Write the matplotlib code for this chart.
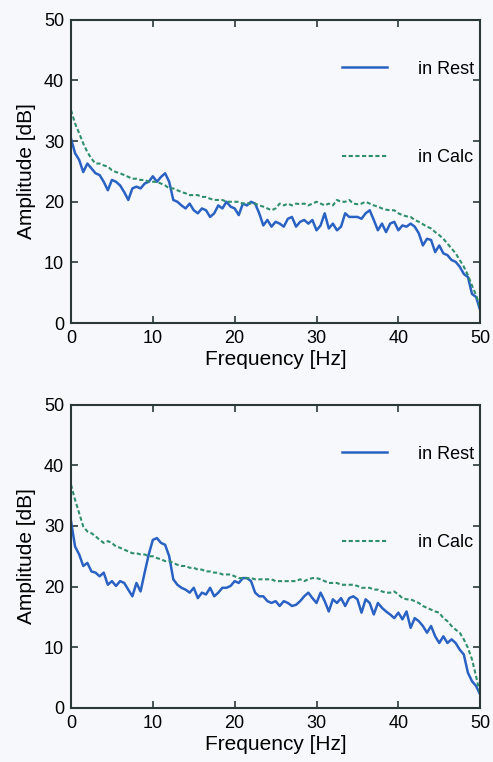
import numpy as np
import matplotlib
matplotlib.use("Agg")
import matplotlib.pyplot as plt

plt.rcParams['font.family'] = ['Liberation Sans', 'DejaVu Sans']

# frequency grid of the spectra (Hz), 0.5 Hz steps
freq = np.arange(0, 50.5, 0.5)

# upper panel
top_rest = [30.4, 28.0, 26.9, 24.9, 26.3, 25.5, 24.7, 24.4, 23.3, 21.9,
            23.6, 23.3, 22.7, 21.6, 20.3, 22.2, 22.5, 22.2, 23.0, 23.3,
            24.2, 23.3, 24.1, 24.7, 23.3, 20.3, 20.0, 19.4, 18.9, 19.7,
            18.6, 18.1, 18.9, 18.6, 17.5, 18.1, 19.4, 18.9, 20.0, 19.2,
            18.9, 17.8, 19.7, 19.4, 20.0, 19.7, 18.1, 16.1, 17.0, 15.9,
            16.7, 16.4, 15.9, 17.2, 17.5, 15.9, 16.7, 17.0, 16.4, 17.0,
            15.3, 16.1, 18.1, 15.6, 16.4, 15.3, 15.9, 18.1, 17.5, 17.5,
            17.5, 17.2, 18.1, 18.6, 17.0, 15.3, 16.4, 15.0, 16.4, 16.7,
            15.3, 16.1, 15.9, 16.4, 15.9, 14.8, 12.8, 13.9, 13.7, 11.7,
            12.8, 11.5, 11.2, 10.4, 10.1, 9.3, 8.1, 7.6, 4.8, 4.3,
            2.1]
top_calc = [35.1, 32.9, 31.3, 29.6, 28.2, 27.1, 26.3, 26.3, 26.0, 25.8,
            25.2, 24.9, 24.7, 24.4, 24.1, 23.8, 23.8, 23.6, 23.6, 23.3,
            23.3, 23.3, 23.0, 22.7, 22.2, 22.2, 21.9, 21.6, 21.4, 21.1,
            21.1, 21.1, 20.8, 20.8, 20.5, 20.3, 20.3, 20.3, 20.0, 20.0,
            20.0, 20.0, 19.7, 19.8, 19.7, 19.7, 19.4, 19.2, 18.9, 18.6,
            18.9, 19.7, 19.4, 19.7, 19.4, 19.7, 19.6, 19.7, 19.4, 19.7,
            20.0, 19.7, 19.4, 19.7, 19.4, 20.3, 20.0, 20.0, 20.3, 19.7,
            19.6, 19.7, 20.0, 19.7, 19.4, 19.2, 18.9, 18.7, 18.6, 18.6,
            18.1, 17.8, 17.6, 17.5, 17.0, 16.7, 16.3, 15.9, 15.6, 15.0,
            14.5, 13.9, 13.1, 12.3, 11.5, 10.4, 9.3, 7.9, 6.2, 4.6,
            2.6]

# lower panel
bot_rest = [30.8, 26.6, 25.3, 23.4, 23.9, 22.5, 22.3, 21.7, 22.3, 20.3,
            20.9, 20.1, 20.9, 20.6, 19.5, 18.4, 20.6, 19.2, 22.3, 25.3,
            27.7, 28.0, 27.2, 26.9, 25.0, 21.2, 20.3, 19.8, 19.5, 19.0,
            19.8, 18.1, 19.0, 18.7, 19.8, 18.4, 19.0, 19.8, 19.8, 20.1,
            20.9, 20.6, 21.4, 21.4, 20.9, 19.0, 18.4, 18.4, 17.6, 17.3,
            17.6, 16.8, 17.6, 17.3, 16.8, 17.0, 17.6, 18.4, 19.0, 18.1,
            17.3, 19.0, 17.6, 15.9, 17.9, 17.3, 18.1, 16.8, 18.1, 18.4,
            17.9, 15.7, 17.9, 17.3, 15.4, 17.3, 16.5, 15.9, 15.4, 14.8,
            15.7, 14.6, 15.9, 13.2, 14.8, 14.3, 13.5, 12.4, 13.5, 11.8,
            10.7, 11.8, 10.7, 11.3, 10.7, 9.6, 8.8, 5.8, 4.4, 3.6,
            2.2]
bot_calc = [36.8, 34.3, 32.1, 29.9, 29.1, 28.8, 28.3, 27.7, 27.2, 27.5,
            27.2, 26.6, 26.4, 26.1, 25.8, 25.5, 25.5, 25.3, 25.3, 25.0,
            25.0, 24.7, 24.5, 24.2, 24.2, 23.9, 23.6, 23.4, 23.4, 23.1,
            23.1, 22.8, 22.8, 22.5, 22.5, 22.3, 22.3, 22.0, 22.0, 22.0,
            21.7, 21.4, 21.4, 21.4, 21.4, 21.2, 21.2, 21.2, 21.2, 21.2,
            20.9, 20.9, 20.9, 20.9, 20.9, 20.9, 21.2, 20.9, 21.2, 21.4,
            21.4, 21.2, 20.9, 20.6, 20.6, 20.6, 20.3, 20.3, 20.3, 20.3,
            20.1, 19.8, 19.8, 19.8, 19.5, 19.5, 19.2, 19.0, 19.0, 19.2,
            18.7, 18.1, 17.9, 17.9, 17.6, 17.3, 16.8, 16.5, 16.2, 15.9,
            15.7, 14.8, 14.3, 13.5, 12.9, 12.4, 11.3, 9.9, 8.0, 5.2,
            2.2]

ticks = [0, 10, 20, 30, 40, 50]
bg = '#f7f8fc'
blue = '#2a62c4'
green = '#2f8f6a'
dark = '#2b3838'

fig = plt.figure(figsize=(4.93, 7.62), dpi=100, facecolor=bg)
ax1 = fig.add_axes([0.144, 0.576, 0.830, 0.398])
ax2 = fig.add_axes([0.144, 0.071, 0.830, 0.398])

for ax, rest, calc in [(ax1, top_rest, top_calc), (ax2, bot_rest, bot_calc)]:
    ax.set_facecolor(bg)
    ax.plot(freq, rest, color=blue, lw=1.8, label='in Rest')
    ax.plot(freq, calc, color=green, lw=1.5, linestyle=(0, (2, 1.2)), label='in Calc')
    ax.set_xlim(0, 50)
    ax.set_ylim(0, 50)
    ax.set_xticks(ticks)
    ax.set_yticks(ticks)
    ax.tick_params(direction='in', top=True, right=True, length=5, width=1.2,
                   color=dark, labelsize=13, pad=5)
    for s in ax.spines.values():
        s.set_color(dark)
        s.set_linewidth(1.5)
    ax.set_xlabel('Frequency [Hz]', fontsize=15, labelpad=2)
    ax.set_ylabel('Amplitude [dB]', fontsize=15, labelpad=6)
    ax.legend(loc='upper right', bbox_to_anchor=(0.985, 0.865), frameon=False,
              fontsize=13, handlelength=2.5, handletextpad=1.7,
              labelspacing=3.95, borderpad=0, borderaxespad=0)

plt.savefig('out.png', dpi=100, facecolor=bg)
